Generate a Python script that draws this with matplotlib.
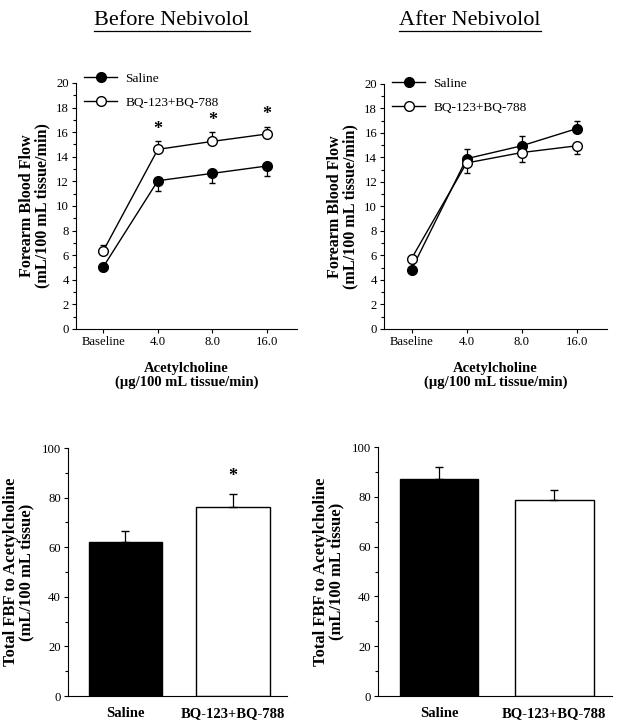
import matplotlib
matplotlib.use("Agg")
import matplotlib.pyplot as plt
from matplotlib.lines import Line2D
from matplotlib.ticker import MultipleLocator
import numpy as np

plt.rcParams['font.family'] = ['Liberation Serif', 'DejaVu Serif']
plt.rcParams['font.size'] = 9.2

# data
doses = ["Baseline", "4.0", "8.0", "16.0"]
groups = ["Saline", "BQ-123+BQ-788"]

before_saline = [5.05, 12.05, 12.65, 13.25]
before_saline_err = [0.2, 0.8, 0.8, 0.8]
before_bq = [6.35, 14.6, 15.25, 15.85]
before_bq_err = [0.5, 0.65, 0.75, 0.6]
before_stars = [None, 16.25, 16.95, 17.4]

after_saline = [4.85, 13.9, 14.95, 16.35]
after_saline_err = [0.2, 0.8, 0.8, 0.6]
after_bq = [5.75, 13.55, 14.4, 14.95]
after_bq_err = [0.2, 0.8, 0.75, 0.65]

before_total = [62.0, 76.2]
before_total_err = [4.4, 5.2]
before_total_star = [None, 88.5]
after_total = [87.0, 78.9]
after_total_err = [5.0, 4.0]

fig = plt.figure(figsize=(6.19, 7.27), dpi=100)

def style_axes(ax):
    for s in ("top", "right"):
        ax.spines[s].set_visible(False)
    ax.tick_params(direction="out", length=3, width=0.8, labelsize=9.2, pad=2)
    ax.tick_params(which="minor", direction="out", length=2, width=0.8)


def line_panel(rect, sal, sal_err, bq, bq_err, sal_dir, stars=None, leg_y=1.06):
    ax = fig.add_axes(rect)
    x = np.arange(len(doses))
    # one-sided error bars
    if sal_dir < 0:
        yerr_s = [sal_err, [0] * len(sal_err)]
        yerr_b = [[0] * len(bq_err), bq_err]
    else:
        yerr_s = [[0] * len(sal_err), sal_err]
        yerr_b = [bq_err, [0] * len(bq_err)]
    ax.errorbar(x, sal, yerr=yerr_s, color="black", lw=1, marker="o", ms=7,
                mfc="black", mec="black", capsize=2.5, elinewidth=0.9, zorder=3)
    ax.errorbar(x, bq, yerr=yerr_b, color="black", lw=1, marker="o", ms=7,
                mfc="white", mec="black", mew=1, capsize=2.5, elinewidth=0.9, zorder=4)
    if stars:
        for xi, s in zip(x, stars):
            if s is not None:
                ax.text(xi, s, "*", ha="center", va="center", fontsize=13, fontweight="bold")
    ax.set_xlim(-0.5, 3.55)
    ax.set_ylim(0, 20)
    ax.set_xticks(x)
    ax.set_xticklabels(doses)
    ax.yaxis.set_major_locator(MultipleLocator(2))
    ax.yaxis.set_minor_locator(MultipleLocator(1))
    style_axes(ax)
    ax.set_ylabel("Forearm Blood Flow\n(mL/100 mL tissue/min)", fontsize=11.6,
                  fontweight="bold", labelpad=4, linespacing=0.95)
    ax.set_xlabel("Acetylcholine\n(\u00b5g/100 mL tissue/min)", fontsize=10.5,
                  fontweight="bold", labelpad=10, linespacing=1.1)
    handles = [Line2D([], [], color="black", lw=1, marker="o", ms=7, mfc="black", mec="black"),
               Line2D([], [], color="black", lw=1, marker="o", ms=7, mfc="white", mec="black")]
    ax.legend(handles, groups, loc="upper left", bbox_to_anchor=(0.0, leg_y), frameon=False,
              fontsize=9.6, handlelength=2.5, borderaxespad=0.2, labelspacing=0.9,
              handletextpad=0.6)
    return ax


def bar_panel(rect, vals, errs, star=None):
    ax = fig.add_axes(rect)
    x = np.arange(len(groups))
    ax.bar(x, vals, width=0.68, color=["black", "white"], edgecolor="black", linewidth=1)
    ax.errorbar(x, vals, yerr=[[0] * len(errs), errs], fmt="none", ecolor="black",
                elinewidth=0.9, capsize=3)
    if star:
        for xi, s in zip(x, star):
            if s is not None:
                ax.text(xi, s, "*", ha="center", va="center", fontsize=13, fontweight="bold")
    ax.set_xlim(-0.53, 1.5)
    ax.set_ylim(0, 100)
    ax.yaxis.set_major_locator(MultipleLocator(20))
    ax.yaxis.set_minor_locator(MultipleLocator(10))
    style_axes(ax)
    ax.set_xticks(x)
    ax.set_xticklabels(groups, fontsize=10.5, fontweight="bold")
    ax.tick_params(axis="x", length=0, pad=8)
    ax.set_ylabel("Total FBF to Acetylcholine\n(mL/100 mL tissue)", fontsize=12,
                  fontweight="bold", labelpad=5, linespacing=1.0)
    return ax


line_panel([0.1228, 0.5475, 0.357, 0.3384], before_saline, before_saline_err,
           before_bq, before_bq_err, -1, before_stars, leg_y=1.075)
line_panel([0.6204, 0.5475, 0.360, 0.3370], after_saline, after_saline_err,
           after_bq, after_bq_err, 1, leg_y=1.06)
bar_panel([0.1099, 0.0426, 0.3538, 0.341], before_total, before_total_err, before_total_star)
bar_panel([0.6107, 0.0426, 0.378, 0.3425], after_total, after_total_err)

# underlined panel titles
fig.canvas.draw()
renderer = fig.canvas.get_renderer()
for cx, title in [(172 / 619, "Before Nebivolol"), (470 / 619, "After Nebivolol")]:
    t = fig.text(cx, 1 - 25 / 727, title, ha="center", va="baseline", fontsize=16)
    bb = t.get_window_extent(renderer).transformed(fig.transFigure.inverted())
    fig.add_artist(Line2D([bb.x0, bb.x1], [bb.y0 - 0.0015, bb.y0 - 0.0015],
                          color="black", lw=0.9, transform=fig.transFigure))

fig.savefig("out.png", dpi=100)
